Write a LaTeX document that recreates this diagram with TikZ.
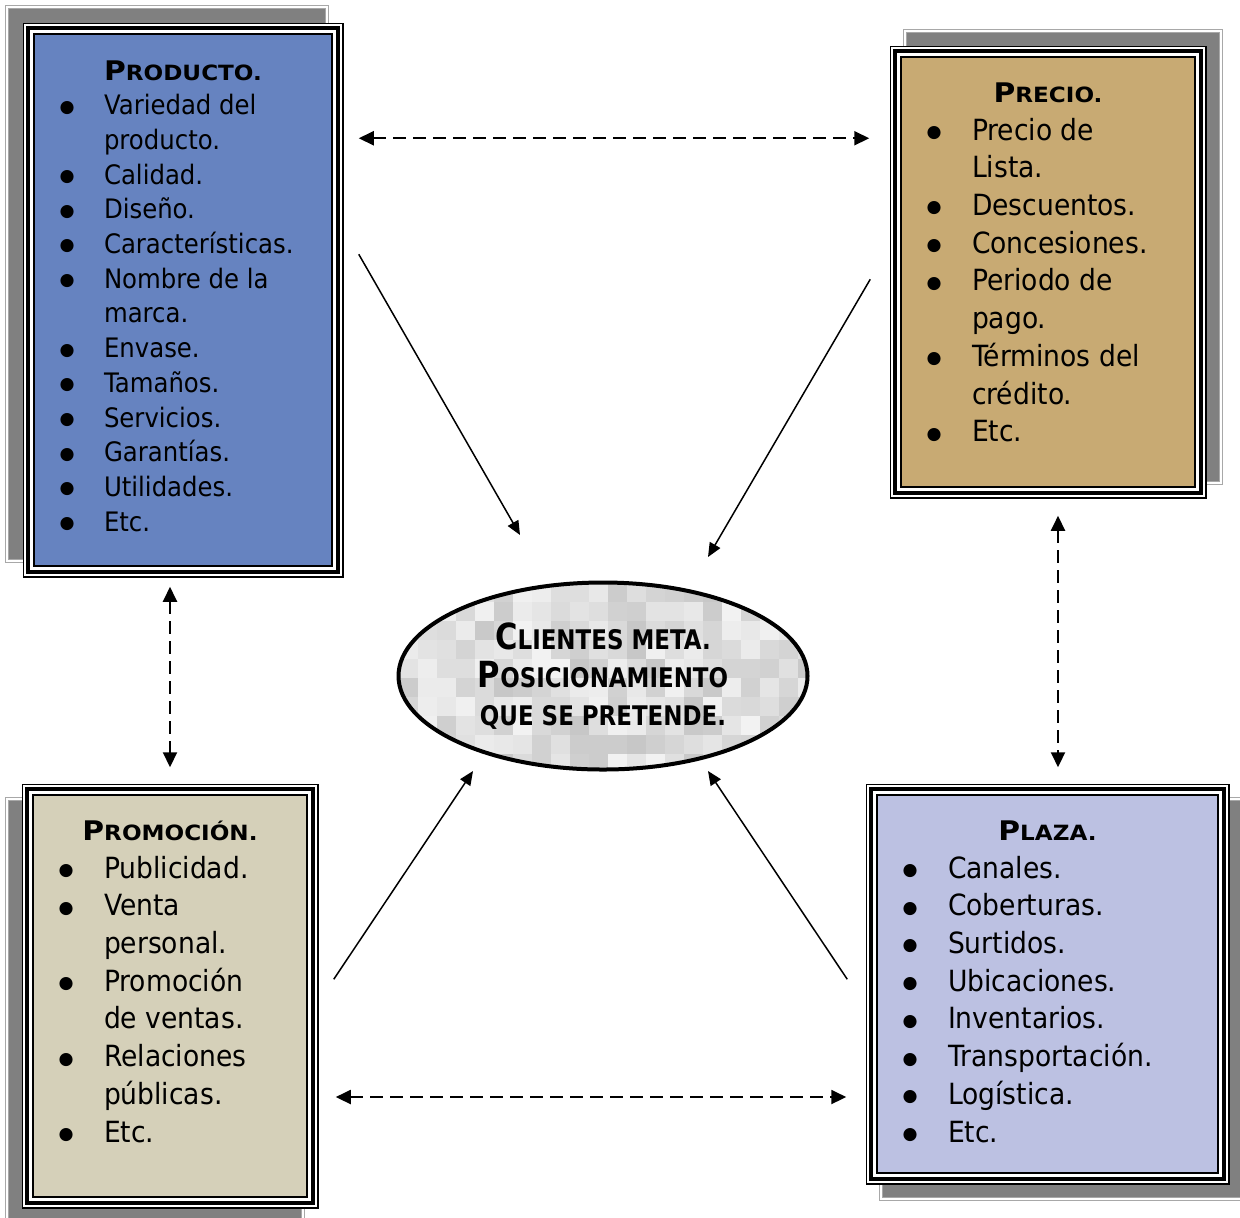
\documentclass[tikz,border=0pt]{standalone}
\usepackage{fontspec}
\setmainfont{DejaVu Sans}[FakeStretch=0.91]
\newfontfamily\fuenteTit{DejaVu Sans}[FakeStretch=1.1]
\newfontfamily\fuenteElipse{DejaVu Sans}[FakeStretch=0.85]
\newfontfamily\fuenteVineta{DejaVu Sans}
\usepackage{tikz}
\usetikzlibrary{arrows.meta, shapes.geometric, backgrounds}
\definecolor{colorProducto}{HTML}{6683C0}
\definecolor{colorPrecio}{HTML}{C8AA73}
\definecolor{colorPromocion}{HTML}{D5D0B9}
\definecolor{colorPlaza}{HTML}{BCC1E2}
\definecolor{grisSombra}{HTML}{808080}
\definecolor{grisBorde}{HTML}{A8A8A8}
% versalitas falsas: inicial grande y resto en mayusculas menores
\newcommand{\Versal}[2]{{\fuenteTit\bfseries\fontsize{13.5pt}{19pt}\selectfont #1\fontsize{10.5pt}{19pt}\selectfont #2}}
\newcommand{\VersalElipse}[2]{{\fuenteElipse\bfseries\fontsize{18pt}{19pt}\selectfont #1\fontsize{13.5pt}{19pt}\selectfont #2}}
% vineta con sangria colgante
\newcommand{\vineta}[1][35.5pt]{\par\noindent\hangindent=#1\hangafter=1\makebox[#1][l]{\hspace{12.8pt}{\fuenteVineta\fontsize{8.6pt}{0pt}\selectfont\raisebox{1.3pt}{●}}}}
\tikzset{
  %% cajas
  caja/.style       = {draw=black, line width=0.75pt, inner sep=0pt},
  placa/.style      = {draw=black, line width=0.75pt, fill=white},
  marcoGrueso/.style = {draw=black, line width=2.2pt},
  sombra/.style     = {fill=grisSombra, draw=grisBorde, double=white,
                       double distance=0.8pt, line width=0.5pt},
  elipse/.style     = {ellipse, draw=black, line width=2pt, fill=black!12,
                       minimum width=204.5pt, minimum height=93.5pt,
                       inner sep=0pt, align=center,
                       font=\fontsize{13.5pt}{19pt}\selectfont},
  %% flechas
  flechaDoble/.style = {{Triangle[length=7.5pt, width=7pt]}-{Triangle[length=7.5pt, width=7pt]},
                       line width=1pt, dash pattern=on 6.5pt off 3.5pt},
  flecha/.style     = {-{Triangle[length=7pt, width=6pt]}, line width=0.75pt},
}
\begin{document}
\begin{tikzpicture}[x=0.5pt, y=-0.5pt]
\useasboundingbox (0,0) rectangle (1240,1217);
\pgfmathsetseed{7}

\node[caja, fill=colorProducto] (prod) at (183,300)
  {\parbox[c][266pt][t]{149pt}{\fontsize{13.4pt}{17.35pt}\selectfont\raggedright
   {\centering\rule{0pt}{23pt}\Versal{P}{RODUCTO.}\par}%
   \vineta[35pt]Variedad del\newline producto.%
   \vineta[35pt]Calidad.%
   \vineta[35pt]Diseño.%
   \vineta[35pt]Características.%
   \vineta[35pt]Nombre de la\newline marca.%
   \vineta[35pt]Envase.%
   \vineta[35pt]Tamaños.%
   \vineta[35pt]Servicios.%
   \vineta[35pt]Garantías.%
   \vineta[35pt]Utilidades.%
   \vineta[35pt]Etc.\par}};

\node[caja, fill=colorPrecio] (prec) at (1048,272)
  {\parbox[c][215pt][t]{147pt}{\fontsize{14.6pt}{18.85pt}\selectfont\raggedright
   {\centering\rule{0pt}{22.7pt}\Versal{P}{RECIO.}\par}%
   \vineta Precio de\newline Lista.%
   \vineta Descuentos.%
   \vineta Concesiones.%
   \vineta Periodo de\newline pago.%
   \vineta Términos del\newline crédito.%
   \vineta Etc.\par}};

\node[caja, fill=colorPromocion] (prom) at (170,996)
  {\parbox[c][201pt][t]{137pt}{\fontsize{14.6pt}{18.85pt}\selectfont\raggedright
   {\centering\rule{0pt}{22.7pt}\Versal{P}{ROMOCIÓN.}\par}%
   \vineta Publicidad.%
   \vineta Venta\newline personal.%
   \vineta Promoción\newline de ventas.%
   \vineta Relaciones\newline públicas.%
   \vineta Etc.\par}};

\node[caja, fill=colorPlaza] (plaz) at (1047.5,984)
  {\parbox[c][189pt][t]{170.5pt}{\fontsize{14.6pt}{18.85pt}\selectfont\raggedright
   {\centering\rule{0pt}{22.7pt}\Versal{P}{LAZA.}\par}%
   \vineta Canales.%
   \vineta Coberturas.%
   \vineta Surtidos.%
   \vineta Ubicaciones.%
   \vineta Inventarios.%
   \vineta Transportación.%
   \vineta Logística.%
   \vineta Etc.\par}};

\node[elipse, path picture={
    \foreach \i in {0,...,21}{\foreach \j in {0,...,10}{
      \pgfmathrandominteger{\tono}{5}{22}
      \fill[black!\tono] ([shift={(\i*19,\j*19)}]path picture bounding box.north west) rectangle +(19,19);
    }}}] (cm) at (603,676)
  {\VersalElipse{C}{LIENTES META.}\\\VersalElipse{P}{OSICIONAMIENTO}\\\VersalElipse{}{QUE SE PRETENDE.}};

% sombras y placas blancas detras de las cajas
\begin{scope}[on background layer]
  \foreach \n/\dx/\dy in {prod/-16/-16, prec/15/-15, prom/-15/15, plaz/15/15}{
    \draw[sombra] ([shift={(\dx-10,\dy-10)}]\n.north west) rectangle ([shift={(\dx+10,\dy+10)}]\n.south east);
    \draw[placa] ([shift={(-10,-10)}]\n.north west) rectangle ([shift={(10,10)}]\n.south east);
  }
\end{scope}
\foreach \n in {prod,prec,prom,plaz}
  \draw[marcoGrueso] ([shift={(-5,-5)}]\n.north west) rectangle ([shift={(5,5)}]\n.south east);

% relaciones entre las cuatro P
\draw[flechaDoble] ([shift={(26,105)}]prod.north east) -- ([shift={(-31,82)}]prec.north west);
\draw[flechaDoble] ([shift={(-13,20)}]prod.south) -- ([shift={(0,-27)}]prom.north);
\draw[flechaDoble] ([shift={(10,28)}]prec.south) -- ([shift={(10.5,-27)}]plaz.north);
\draw[flechaDoble] ([shift={(28,101)}]prom.east) -- ([shift={(-30,113)}]plaz.west);

% hacia los clientes meta
\draw[flecha] ([shift={(26,221)}]prod.north east) -- ([shift={(-83,-141)}]cm.center);
\draw[flecha] ([shift={(-30,223)}]prec.north west) -- ([shift={(105,-119)}]cm.center);
\draw[flecha] ([shift={(26,185)}]prom.north east) -- ([shift={(-130,95)}]cm.center);
\draw[flecha] ([shift={(-29,185)}]plaz.north west) -- ([shift={(105,95)}]cm.center);

\end{tikzpicture}
\end{document}
